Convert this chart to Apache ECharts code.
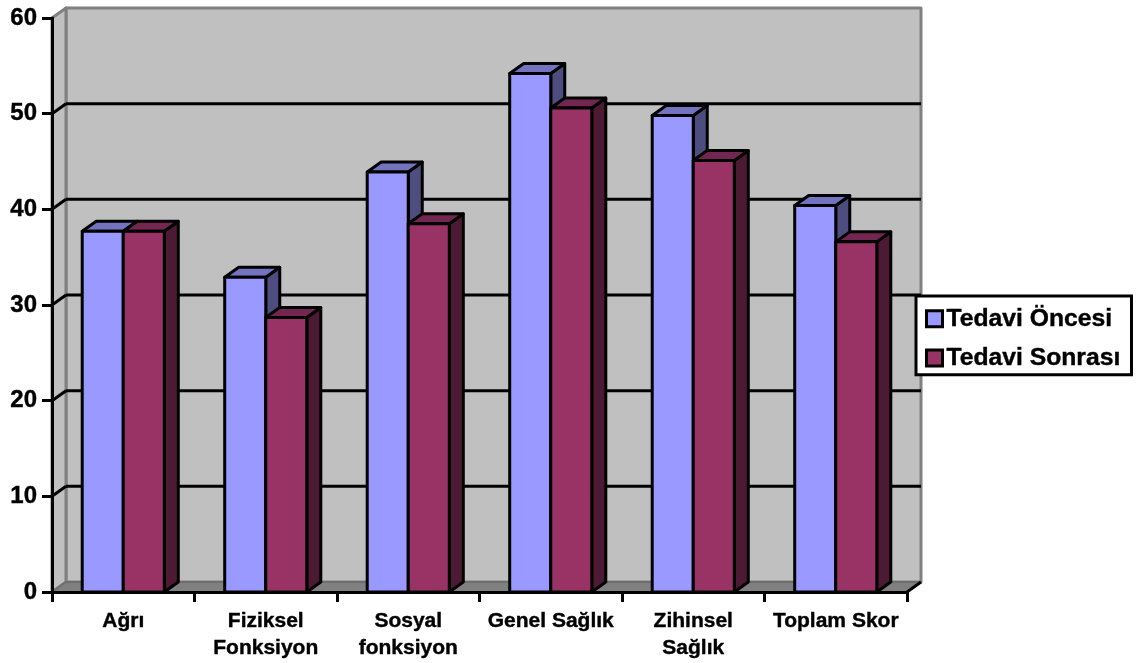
<!DOCTYPE html>
<html>
<head>
<meta charset="utf-8">
<style>html,body{margin:0;padding:0;background:#fff}#chart{width:1140px;height:663px}</style>
<script src="https://cdn.jsdelivr.net/npm/echarts@6/dist/echarts.min.js"></script>
</head>
<body>
<div id="chart"></div>
<script>
// Quality-of-life scores before and after treatment
const categories = ['Ağrı', 'Fiziksel\nFonksiyon', 'Sosyal\nfonksiyon', 'Genel Sağlık', 'Zihinsel\nSağlık', 'Toplam Skor'];
const before = [37.7, 32.9, 43.9, 54.2, 49.8, 40.4];
const after = [37.7, 28.7, 38.5, 50.6, 45.1, 36.6];
const gridValues = [10, 20, 30, 40, 50];

// Oblique projection used for the pseudo-3D look
const DEPTH_X = 14, DEPTH_Y = -10;
const BAR_RATIO = 0.288;
const EDGE = '#000', FONT = '"Liberation Sans", Arial, sans-serif';
const boldText = { fontFamily: FONT, fontWeight: 'bold', color: '#000', textBorderColor: '#000', textBorderWidth: 0.4 };

function poly(points, fill, stroke, lineWidth) {
  return { type: 'polygon', shape: { points }, style: { fill, stroke, lineWidth, lineJoin: 'round' } };
}
function line(x1, y1, x2, y2, stroke, lineWidth) {
  return { type: 'line', shape: { x1, y1, x2, y2 }, style: { stroke, lineWidth } };
}

// Back wall, side wall and floor of the box
function renderWalls(params, api) {
  const c = params.coordSys;
  const l = c.x, r = c.x + c.width, t = c.y, b = c.y + c.height;
  const dx = DEPTH_X, dy = DEPTH_Y;
  return { type: 'group', children: [
    poly([[l + dx, t + dy], [r + dx, t + dy], [r + dx, b + dy], [l + dx, b + dy]], '#c0c0c0', '#808080', 3),
    poly([[l, t], [l + dx, t + dy], [l + dx, b + dy], [l, b]], '#c0c0c0', '#808080', 3),
    poly([[l, b], [l + dx, b + dy], [r + dx, b + dy], [r, b]], '#808080', '#6e6e6e', 2),
    line(r, b, r + dx, b + dy, EDGE, 3)
  ] };
}

// One gridline on the back wall with its diagonal run across the side wall
function renderGridline(params, api) {
  const c = params.coordSys;
  const y = api.coord([0, api.value(1)])[1];
  return { type: 'group', children: [
    line(c.x, y, c.x + DEPTH_X, y + DEPTH_Y, EDGE, 3),
    line(c.x + DEPTH_X, y + DEPTH_Y, c.x + c.width + DEPTH_X, y + DEPTH_Y, EDGE, 3)
  ] };
}

// A box-shaped bar: front, top and side faces
function barRenderer(slot, front, top, side) {
  return function (params, api) {
    const base = api.coord([api.value(0), 0]);
    const head = api.coord([api.value(0), api.value(1)]);
    const w = api.size([1, 0])[0] * BAR_RATIO;
    const x0 = base[0] + slot * w, x1 = x0 + w;
    const y0 = base[1], y1 = head[1];
    const dx = DEPTH_X, dy = DEPTH_Y;
    return { type: 'group', children: [
      poly([[x1, y0], [x1 + dx, y0 + dy], [x1 + dx, y1 + dy], [x1, y1]], side, EDGE, 3),
      poly([[x0, y1], [x0 + dx, y1 + dy], [x1 + dx, y1 + dy], [x1, y1]], top, EDGE, 3),
      poly([[x0, y0], [x0, y1], [x1, y1], [x1, y0]], front, EDGE, 3)
    ] };
  };
}

const pairs = values => values.map((v, i) => [i, v]);
const chart = echarts.init(document.getElementById('chart'), null, { renderer: 'canvas' });
chart.setOption({
  animation: false,
  backgroundColor: '#fff',
  grid: { left: 52, right: 233, top: 18, bottom: 71, containLabel: false },
  legend: {
    data: ['Tedavi Öncesi', 'Tedavi Sonrası'],
    orient: 'vertical',
    left: 916, top: 296,
    selectedMode: false,
    backgroundColor: '#fff',
    borderColor: '#000', borderWidth: 3, borderRadius: 0,
    padding: [10, 11, 4, 9],
    itemWidth: 16, itemHeight: 16, itemGap: 14,
    icon: 'rect',
    itemStyle: { borderColor: '#000', borderWidth: 3 },
    textStyle: Object.assign({}, boldText, { fontSize: 24.7, padding: [0, 0, 0, -1] })
  },
  xAxis: {
    type: 'category', data: categories, z: 3,
    axisLine: { lineStyle: { color: '#000', width: 3 } },
    axisTick: { show: true, interval: 0, alignWithLabel: false, length: 10, lineStyle: { color: '#000', width: 3 } },
    axisLabel: Object.assign({}, boldText, { interval: 0, fontSize: 21, margin: 16, lineHeight: 27 }),
    splitLine: { show: false }
  },
  yAxis: {
    type: 'value', min: 0, max: 60, interval: 10, z: 3,
    axisLine: { show: true, lineStyle: { color: '#000', width: 3 } },
    axisTick: { show: true, length: 10, lineStyle: { color: '#000', width: 3 } },
    axisLabel: Object.assign({}, boldText, { fontSize: 24, margin: 15, padding: [2, 0, 0, 0] }),
    splitLine: { show: false }
  },
  series: [
    { type: 'custom', name: 'walls', z: 1, silent: true, renderItem: renderWalls, data: [[0, 60]], clip: false },
    { type: 'custom', name: 'grid', z: 2, silent: true, renderItem: renderGridline, data: gridValues.map(v => [0, v]), clip: false },
    { type: 'custom', name: 'Tedavi Öncesi', z: 5, itemStyle: { color: '#9999ff' },
      renderItem: barRenderer(-1, '#9999ff', '#7373bf', '#4d4d80'), data: pairs(before), clip: false },
    { type: 'custom', name: 'Tedavi Sonrası', z: 6, itemStyle: { color: '#993366' },
      renderItem: barRenderer(0, '#993366', '#732650', '#4d1a33'), data: pairs(after), clip: false }
  ]
});
</script>
</body>
</html>
